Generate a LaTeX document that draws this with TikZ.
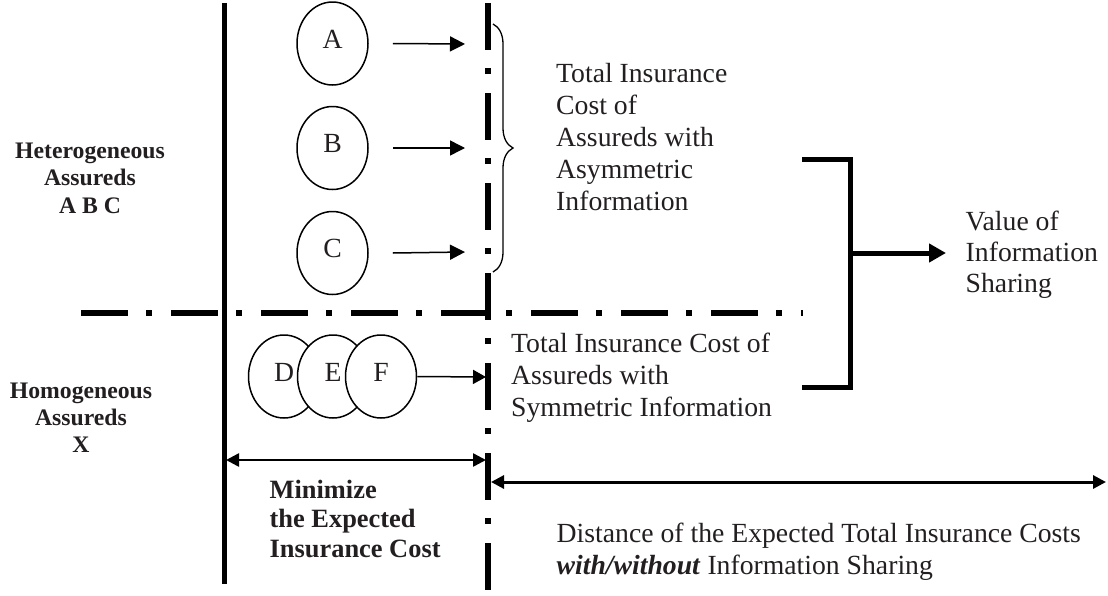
\documentclass[tikz,border=0pt]{standalone}
\usepackage{fontspec}
\setmainfont{Liberation Serif}
\usetikzlibrary{arrows.meta,shapes.geometric,decorations.pathreplacing}
\definecolor{ink}{HTML}{231F20}
\begin{document}
\begin{tikzpicture}[x=1pt,y=-1pt,
  ell/.style={ellipse, draw, line width=1.5pt, minimum width=71pt, minimum height=83pt,
    inner sep=0pt, fill=white, text=ink, text depth=9pt, font=\fontsize{27.7}{32}\selectfont},
  txt/.style={inner sep=0pt, align=left, text=ink, font=\fontsize{27.7}{32}\selectfont},
  boldtxt/.style={inner sep=0pt, text=ink},
  thinarr/.style={line width=1.5pt, -{Triangle[length=15pt,width=15pt]}},
  dblarr/.style={{Triangle[length=13pt,width=13pt]}-{Triangle[length=13pt,width=13pt]}},
  dashdotline/.style={line width=5.8pt, dash pattern=on 47pt off 18pt on 6pt off 19pt},
  heavy/.style={line width=5pt}
]
\useasboundingbox (0,0) rectangle (1108,595);

% main lines
\coordinate (L1) at (224,3);
\coordinate (L2) at (224,584);
\draw[heavy] (L1) -- (L2);
\coordinate (M1) at (488,3);
\coordinate (M2) at (488,590);
\draw[dashdotline] (M1) -- (M2);
\coordinate (H1) at (81,313);
\coordinate (H2) at (803,313);
\draw[dashdotline, line width=5.5pt] (H1) -- (H2);

% heterogeneous assureds
\node[ell] (A) at (332.5,43.5) {A};
\node[ell] (B) at (332.5,148) {B};
\node[ell] (C) at (332.5,253) {C};
\coordinate (tA) at (465,44);
\coordinate (tB) at (465,148);
\coordinate (tC) at (465,252);
\draw[thinarr] ([xshift=24pt]A.east) -- (tA);
\draw[thinarr] ([xshift=24pt]B.east) -- (tB);
\draw[thinarr] ([xshift=24pt]C.east) -- (tC);

% brace
\coordinate (b1) at (493,24);
\coordinate (b2) at (493,272);
\draw[line width=1.3pt, decorate, decoration={brace, amplitude=20pt}] (b1) -- (b2);

% homogeneous assureds
\node[ell] (D) at (284,376.5) {D};
\node[ell] (E) at (333,376.5) {E};
\node[ell] (F) at (381,376.5) {F};
\coordinate (tF) at (486,377);
\draw[thinarr, -{Triangle[length=13pt,width=14pt]}] (F.east) -- (tF);

% bracket and value arrow
\coordinate (k1) at (802,159);
\coordinate (k2) at (850,159);
\coordinate (k3) at (850,387);
\coordinate (k4) at (802,387);
\draw[heavy, line join=miter] (k1) -- (k2) -- (k3) -- (k4);
\coordinate (k5) at (850,253);
\coordinate (vt) at (946,253);
\draw[heavy, -{Triangle[length=17pt,width=18pt]}] (k5) -- (vt);

% distance arrows
\coordinate (d1) at (226,460);
\coordinate (d2) at (486,460);
\draw[dblarr, line width=2.5pt] (d1) -- (d2);
\coordinate (e1) at (491,482);
\coordinate (e2) at (1106,482);
\draw[dblarr, line width=3pt] (e1) -- (e2);

% texts
\node[txt, anchor=north west] (Tasym) at (556,59.6)
  {\strut Total Insurance\\Cost of\\Assureds with\\Asymmetric\\Information};
\node[txt, font=\fontsize{27.7}{31}\selectfont, anchor=north west] (V) at (965.5,208.3)
  {\strut Value of\\Information\\Sharing};
\node[txt, anchor=north west] (Tsym) at (511,329.6)
  {\strut Total Insurance Cost of\\Assureds with\\Symmetric Information};
\node[txt, anchor=north west] (Dist) at (556.5,519.6)
  {\strut Distance of the Expected Total Insurance Costs\\\textbf{\textit{with/without}} Information Sharing};
\node[boldtxt, align=left, font=\bfseries\fontsize{26.4}{29.5}\selectfont, anchor=north west] (Min) at (269.5,477.4)
  {\strut Minimize\\the Expected\\Insurance Cost};
\node[boldtxt, align=center, font=\bfseries\fontsize{23.7}{27.5}\selectfont, anchor=north] (Het) at (90,138.8)
  {\strut Heterogeneous\\Assureds\\A B C};
\node[boldtxt, align=center, font=\bfseries\fontsize{23.7}{27}\selectfont, anchor=north] (Hom) at (81,379.1)
  {\strut Homogeneous\\Assureds\\X};
\end{tikzpicture}
\end{document}
